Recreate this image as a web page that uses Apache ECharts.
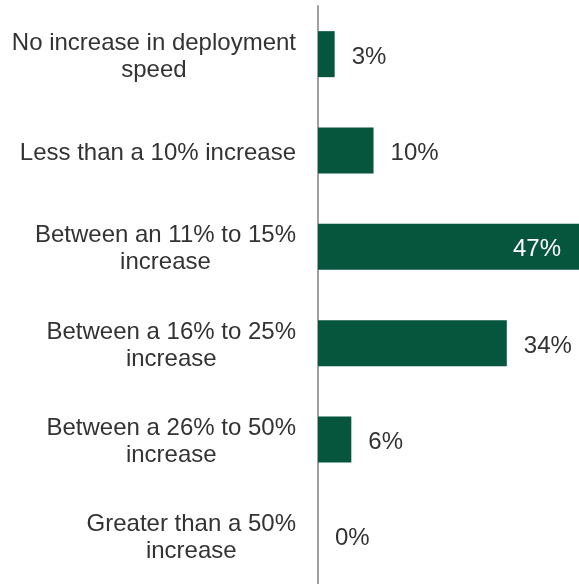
<!DOCTYPE html>
<html>
<head>
<meta charset="utf-8">
<script src="https://cdn.jsdelivr.net/npm/echarts@6/dist/echarts.min.js"></script>
<style>
  html, body { margin: 0; padding: 0; background: #ffffff; }
  #chart { width: 579px; height: 584px; }
</style>
</head>
<body>
<div id="chart"></div>
<script>
// Survey answers: expected increase in deployment speed
const categories = [
  'No increase in deployment\nspeed',
  'Less than a 10% increase',
  'Between an 11% to 15%\nincrease',
  'Between a 16% to 25%\nincrease',
  'Between a 26% to 50%\nincrease',
  'Greater than a 50%\nincrease'
];
const shares = [3, 10, 47, 34, 6, 0];

const barColor = '#06553d';
const textColor = '#333333';
const fontFamily = '"Liberation Sans", Arial, sans-serif';

const chart = echarts.init(document.getElementById('chart'), null, { renderer: 'canvas' });

// Wrap each line in a centred rich token so multi-line labels centre under each other
function centredLines(value) {
  return value.split('\n').map(function (line) { return '{c|' + line + '}'; }).join('\n');
}

const seriesData = shares.map(function (v) {
  const big = v >= 40;
  return {
    value: v,
    label: big
      ? { position: 'insideRight', color: '#ffffff', distance: 18 }
      : { position: 'right', color: textColor, distance: 17 }
  };
});

chart.setOption({
  animation: false,
  backgroundColor: '#ffffff',
  grid: { left: 318, top: 6, width: 264, height: 584, containLabel: false },
  xAxis: {
    type: 'value',
    min: 0,
    max: 47,
    show: false
  },
  yAxis: {
    type: 'category',
    data: categories,
    inverse: true,
    axisLine: { show: true, lineStyle: { color: '#a0a0a0', width: 2 } },
    axisTick: { show: false },
    splitLine: { show: false },
    axisLabel: {
      margin: 22,
      align: 'right',
      verticalAlign: 'middle',
      padding: [5, 0, 0, 0],
      formatter: centredLines,
      rich: {
        c: {
          align: 'center',
          fontSize: 24,
          lineHeight: 27,
          color: textColor,
          fontFamily: fontFamily
        }
      }
    }
  },
  series: [{
    type: 'bar',
    data: seriesData,
    barWidth: 46,
    itemStyle: { color: barColor },
    label: {
      show: true,
      formatter: '{c}%',
      fontSize: 24,
      offset: [0, 3],
      fontFamily: fontFamily
    }
  }]
});
</script>
</body>
</html>
